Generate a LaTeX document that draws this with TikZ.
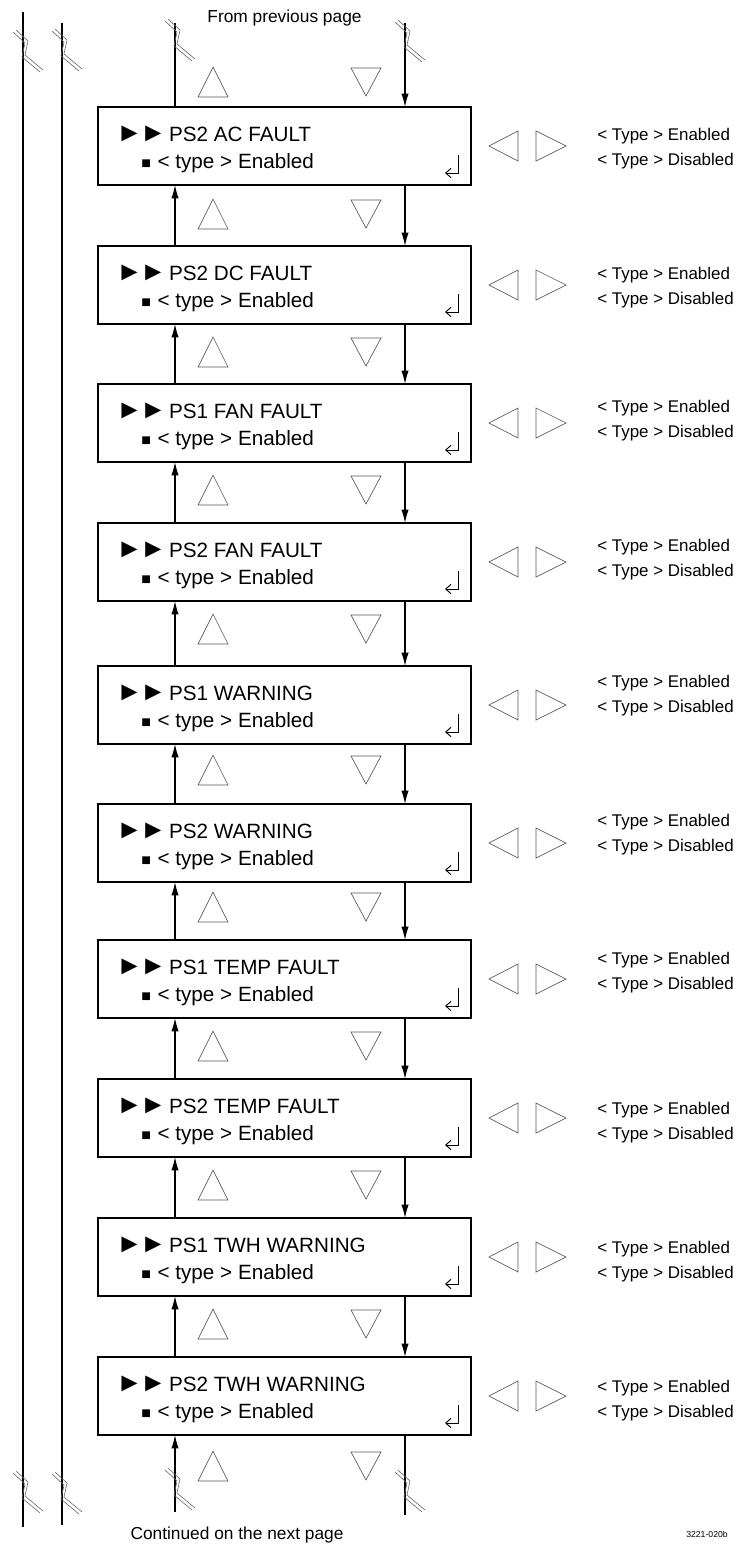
\documentclass[tikz,border=0pt]{standalone}
\usepackage{fontspec}
\setmainfont{Liberation Sans}
\usetikzlibrary{arrows.meta,calc}
\newcommand\ptr{{\fontsize{20}{20}\selectfont ►\kern-0.1em►}}
\newcommand\sqr{{\fontsize{12}{12}\selectfont ■}}
\begin{document}
\begin{tikzpicture}[x=0.75pt,y=-0.75pt,
  box/.style={draw,line width=2pt,minimum width=279.75pt,minimum height=58.5pt,inner sep=0pt,outer sep=0pt,anchor=north west},
  conn/.style={line width=0.9pt},
  arr/.style={conn,-{Latex[length=10pt,width=5.5pt]}},
  tri/.style={draw=black!65,line width=0.5pt},
  brkline/.style={draw=black!60,line width=0.45pt},
  ttl/.style={anchor=base west,inner sep=0pt,font=\fontsize{15.5}{18}\selectfont},
  opt/.style={anchor=base west,inner sep=0pt,font=\fontsize{12.7}{15}\selectfont},
  lbl/.style={anchor=base,inner sep=0pt,font=\fontsize{13}{15}\selectfont},
  brk/.pic={\draw[brkline] (-10,-20) -- (2,-9) -- (-1,5) -- (17,20);
            \draw[brkline] (-7,-22) -- (5,-11) -- (2,3) -- (20,18);},
]
\useasboundingbox (0,0) rectangle (743,1545);
% side lines
\coordinate (l1t) at (23,12); \coordinate (l1b) at (23,1527);
\coordinate (l2t) at (62,23); \coordinate (l2b) at (62,1525);
\draw[conn] (l1t) -- (l1b);
\draw[conn] (l2t) -- (l2b);
% boxes
\foreach \i/\t/\name/\ea/\eb in {1/107/PS2 AC FAULT/134/159, 2/246/PS2 DC FAULT/273/298, 3/384/PS1 FAN FAULT/406/431, 4/523/PS2 FAN FAULT/545/570, 5/666/PS1 WARNING/681/706, 6/804/PS2 WARNING/820/845, 7/940/PS1 TEMP FAULT/958/983, 8/1079/PS2 TEMP FAULT/1108/1133, 9/1218/PS1 TWH WARNING/1247/1272, 10/1357/PS2 TWH WARNING/1386/1411}{
  \pgfmathsetmacro\c{\t+39}
  \node[box] (b\i) at (98,\t) {};
  \node[ttl] (h\i) at (116,{\t+34}) {\ptr\kern2pt \name};
  \node[ttl] (s\i) at (141,{\t+61}) {\sqr\kern5pt< type > Enabled};
  \node[opt] (e\i) at (597,{\ea+6}) {< Type > Enabled};
  \node[opt] (d\i) at (597,{\eb+6}) {< Type > Disabled};
  \draw[line width=0.7pt,-{Straight Barb[length=4pt,width=7pt]}] (458,{\t+48}) -- (458,{\t+66}) -- (445,{\t+66});
  \draw[tri] (518,{\c-15}) -- (518,{\c+15}) -- (489,\c) -- cycle;
  \draw[tri] (536,{\c-15}) -- (536,{\c+15}) -- (566,\c) -- cycle;
}
% connectors between boxes
\foreach \i/\j in {1/2,2/3,3/4,4/5,5/6,6/7,7/8,8/9,9/10}{
  \draw[arr] ($(b\j.north west)+(77,0)$) -- ($(b\i.south west)+(77,0)$);
  \draw[arr] ($(b\i.south west)+(307,0)$) -- ($(b\j.north west)+(307,0)$);
}
% up/down triangles
\foreach \c in {82,214,352,490,629,770,907,1046,1185,1324,1466}{
  \draw[tri] (198,{\c+15}) -- (228,{\c+15}) -- (213,{\c-15}) -- cycle;
  \draw[tri] (351,{\c-14}) -- (381,{\c-14}) -- (366,{\c+14}) -- cycle;
}
% top and bottom free ends
\coordinate (tu) at (175,23); \coordinate (td) at (405,23);
\coordinate (bu) at (175,1512); \coordinate (bd) at (405,1515);
\draw[conn] ($(b1.north west)+(77,0)$) -- (tu);
\draw[arr] (td) -- ($(b1.north west)+(307,0)$);
\draw[arr] (bu) -- ($(b10.south west)+(77,0)$);
\draw[conn] ($(b10.south west)+(307,0)$) -- (bd);
% break symbols
\pic at (23,52) {brk}; \pic at (62,51) {brk};
\pic at (175,41) {brk}; \pic at (405,42) {brk};
\pic at (23,1493) {brk}; \pic at (62,1494) {brk};
\pic at (175,1490) {brk}; \pic at (405,1492) {brk};
% labels
\node[lbl] (top) at (284.5,23) {From previous page};
\node[lbl] (bot) at (237,1539) {Continued on the next page};
\node[lbl,font=\fontsize{6.5}{8}\selectfont] (tag) at (707,1537) {3221-020b};
\end{tikzpicture}
\end{document}
